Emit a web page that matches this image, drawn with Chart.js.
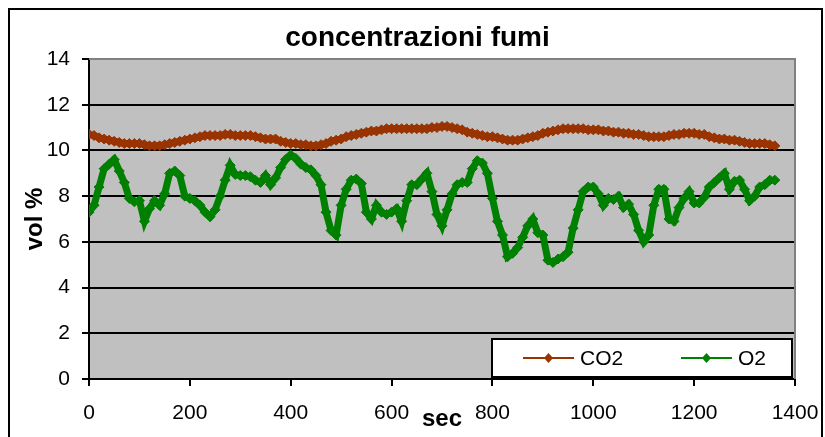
<!DOCTYPE html>
<html>
<head>
<meta charset="utf-8">
<script src="https://cdn.jsdelivr.net/npm/chart.js@4/dist/chart.umd.min.js"></script>
<style>
  html, body { margin: 0; padding: 0; background: #fff; }
  #wrap { width: 825px; height: 437px; }
</style>
</head>
<body>
<div id="wrap"><canvas id="fumi"></canvas></div>
<script>
// sample times (sec)
const seconds = [
  0, 10, 20, 30, 40, 50, 60, 70, 80, 90,
  100, 110, 120, 130, 140, 150, 160, 170, 180, 190,
  200, 210, 220, 230, 240, 250, 260, 270, 280, 290,
  300, 310, 320, 330, 340, 350, 360, 370, 380, 390,
  400, 410, 420, 430, 440, 450, 460, 470, 480, 490,
  500, 510, 520, 530, 540, 550, 560, 570, 580, 590,
  600, 610, 620, 630, 640, 650, 660, 670, 680, 690,
  700, 710, 720, 730, 740, 750, 760, 770, 780, 790,
  800, 810, 820, 830, 840, 850, 860, 870, 880, 890,
  900, 910, 920, 930, 940, 950, 960, 970, 980, 990,
  1000, 1010, 1020, 1030, 1040, 1050, 1060, 1070, 1080, 1090,
  1100, 1110, 1120, 1130, 1140, 1150, 1160, 1170, 1180, 1190,
  1200, 1210, 1220, 1230, 1240, 1250, 1260, 1270, 1280, 1290,
  1300, 1310, 1320, 1330, 1340, 1350, 1360
];

// vol % CO2
const co2 = [
  10.7, 10.65, 10.55, 10.5, 10.45, 10.4, 10.35, 10.3, 10.3, 10.3,
  10.3, 10.25, 10.2, 10.2, 10.2, 10.25, 10.3, 10.35, 10.4, 10.45,
  10.5, 10.55, 10.6, 10.65, 10.65, 10.65, 10.65, 10.7, 10.7, 10.65,
  10.65, 10.65, 10.65, 10.6, 10.55, 10.5, 10.5, 10.5, 10.4, 10.35,
  10.3, 10.3, 10.25, 10.25, 10.2, 10.2, 10.25, 10.3, 10.4, 10.45,
  10.5, 10.6, 10.65, 10.7, 10.75, 10.8, 10.85, 10.85, 10.9, 10.95,
  10.95, 10.95, 10.95, 10.95, 10.95, 10.95, 10.95, 10.95, 11.0, 11.0,
  11.05, 11.05, 11.0, 10.95, 10.9, 10.8, 10.75, 10.7, 10.65, 10.6,
  10.6, 10.55, 10.5, 10.45, 10.45, 10.45, 10.5, 10.55, 10.6, 10.65,
  10.75, 10.8, 10.85, 10.9, 10.95, 10.95, 10.95, 10.95, 10.95, 10.9,
  10.9, 10.9, 10.85, 10.85, 10.8, 10.8, 10.75, 10.75, 10.7, 10.7,
  10.65, 10.6, 10.6, 10.6, 10.6, 10.65, 10.7, 10.7, 10.75, 10.75,
  10.75, 10.7, 10.7, 10.6, 10.55, 10.5, 10.5, 10.45, 10.45, 10.4,
  10.35, 10.3, 10.3, 10.3, 10.3, 10.25, 10.2
];

// vol % O2
const o2 = [
  7.3, 7.6, 8.4, 9.2, 9.4, 9.6, 9.1, 8.6, 7.9, 7.75,
  7.8, 6.9, 7.45, 7.8, 7.6, 8.1, 9.0, 9.1, 8.9, 8.0,
  7.9, 7.8, 7.6, 7.3, 7.1, 7.4, 8.0, 8.7, 9.35, 8.95,
  8.9, 8.9, 8.85, 8.7, 8.6, 8.9, 8.5, 8.8, 9.25, 9.6,
  9.8, 9.65, 9.4, 9.25, 9.15, 8.9, 8.5, 7.3, 6.5, 6.3,
  7.6, 8.3, 8.7, 8.75, 8.55, 7.3, 7.0, 7.6, 7.3, 7.2,
  7.3, 7.45, 6.9, 7.8, 8.5, 8.5, 8.75, 9.0, 8.2, 7.2,
  6.7, 7.4, 8.1, 8.5, 8.6, 8.6, 9.2, 9.55, 9.45, 9.0,
  7.9, 6.9, 6.3, 5.35, 5.5, 5.75, 6.2, 6.7, 7.0, 6.4,
  6.3, 5.2, 5.1, 5.25, 5.35, 5.55, 6.6, 7.4, 8.2, 8.4,
  8.4, 8.1, 7.6, 7.9, 7.85, 8.0, 7.5, 7.65, 7.2, 6.5,
  6.0, 6.3, 7.6, 8.3, 8.3, 7.0, 6.9, 7.5, 7.9, 8.2,
  7.7, 7.7, 7.95, 8.4, 8.6, 8.8, 9.0, 8.3, 8.65, 8.7,
  8.3, 7.8, 8.0, 8.4, 8.5, 8.7, 8.7
];

const seriesNames = ['CO2', 'O2'];
const seriesColors = ['#993300', '#008000'];

const pairs = vals => seconds.map((s, i) => ({ x: s, y: vals[i] }));

Chart.defaults.font.family = "'Liberation Sans', Arial, sans-serif";
Chart.defaults.color = '#000';

// gray plot area + gray frame on top/right
const plotBg = {
  id: 'plotBg',
  beforeDraw(chart) {
    const { ctx, chartArea: a } = chart;
    ctx.save();
    ctx.fillStyle = '#c0c0c0';
    ctx.fillRect(a.left, a.top, a.right - a.left, a.bottom - a.top);
    ctx.restore();
  },
  beforeDatasetsDraw(chart) {
    const { ctx, chartArea: a } = chart;
    ctx.save();
    ctx.strokeStyle = '#808080';
    ctx.lineWidth = 2;
    ctx.beginPath();
    ctx.moveTo(a.left, a.top);
    ctx.lineTo(a.right, a.top);
    ctx.lineTo(a.right, a.bottom);
    ctx.stroke();
    ctx.restore();
  }
};

// outer frame and the boxed legend inside the plot
const frameAndLegend = {
  id: 'frameAndLegend',
  afterLayout(chart) {
    // title is centred on the whole frame, not on the padded area
    chart.titleBlock.left = 10;
    chart.titleBlock.right = 825;
  },
  afterDraw(chart) {
    const { ctx } = chart;
    ctx.save();
    ctx.strokeStyle = '#000';
    ctx.lineWidth = 2;
    ctx.strokeRect(9, 9, 813, 440);

    const box = { x: 492, y: 339, w: 300, h: 38 };
    ctx.fillStyle = '#fff';
    ctx.fillRect(box.x, box.y, box.w, box.h);
    ctx.strokeRect(box.x, box.y, box.w, box.h);

    const cy = box.y + box.h / 2;
    const items = [{ x1: 523, x2: 574, tx: 580 }, { x1: 681, x2: 732, tx: 738 }];
    ctx.font = "21px 'Liberation Sans', Arial, sans-serif";
    ctx.textBaseline = 'middle';
    items.forEach((it, i) => {
      const c = seriesColors[i];
      ctx.strokeStyle = c;
      ctx.lineWidth = 2;
      ctx.beginPath();
      ctx.moveTo(it.x1, cy);
      ctx.lineTo(it.x2, cy);
      ctx.stroke();
      const mx = (it.x1 + it.x2) / 2;
      ctx.fillStyle = c;
      ctx.beginPath();
      ctx.moveTo(mx, cy - 5);
      ctx.lineTo(mx + 4.5, cy);
      ctx.lineTo(mx, cy + 5);
      ctx.lineTo(mx - 4.5, cy);
      ctx.closePath();
      ctx.fill();
      ctx.fillStyle = '#000';
      ctx.fillText(seriesNames[i], it.tx, cy + 1);
    });
    ctx.restore();
  }
};

const seriesStyle = color => ({
  borderColor: color,
  backgroundColor: color,
  borderWidth: 7,
  pointStyle: 'rectRot',
  pointRadius: 5,
  pointBorderWidth: 1,
  pointBackgroundColor: color,
  pointBorderColor: color,
  tension: 0
});

new Chart(document.getElementById('fumi'), {
  type: 'line',
  data: {
    datasets: [
      Object.assign({ label: seriesNames[0], data: pairs(co2) }, seriesStyle(seriesColors[0])),
      Object.assign({ label: seriesNames[1], data: pairs(o2) }, seriesStyle(seriesColors[1]))
    ]
  },
  options: {
    responsive: true,
    maintainAspectRatio: false,
    animation: false,
    layout: { padding: { left: 0, right: 30, top: 0, bottom: 0 } },
    plugins: {
      legend: { display: false },
      tooltip: { enabled: false },
      title: {
        display: true,
        text: 'concentrazioni fumi',
        font: { size: 28, weight: 'bold' },
        color: '#000',
        padding: { top: 21, bottom: 4.4 }
      }
    },
    scales: {
      x: {
        type: 'linear',
        min: 0,
        max: 1400,
        ticks: {
          stepSize: 200,
          font: { size: 21 },
          padding: 15,
          maxRotation: 0,
          callback: v => String(v)
        },
        grid: { drawOnChartArea: false, drawTicks: true, tickLength: 7, color: '#000', lineWidth: 2 },
        border: { color: '#000', width: 2 },
        title: {
          display: true,
          text: 'sec',
          font: { size: 24, weight: 'bold' },
          padding: { top: 0, bottom: 3 }
        },
        afterFit(scale) {
          scale.height = 58;
          scale.paddingLeft = 0;
          scale.paddingRight = 0;
        }
      },
      y: {
        min: 0,
        max: 14,
        ticks: { stepSize: 2, font: { size: 21 }, padding: 12 },
        grid: {
          color: ctx => (ctx.tick && ctx.tick.value === 14 ? '#808080' : '#000'),
          tickColor: '#000',
          lineWidth: 2,
          tickLength: 7
        },
        border: { color: '#000', width: 2 },
        title: {
          display: true,
          text: 'vol %',
          font: { size: 24, weight: 'bold' },
          padding: { top: 20.6, bottom: 0 }
        },
        afterFit(scale) { scale.width = 89; }
      }
    }
  },
  plugins: [plotBg, frameAndLegend]
});
</script>
</body>
</html>
